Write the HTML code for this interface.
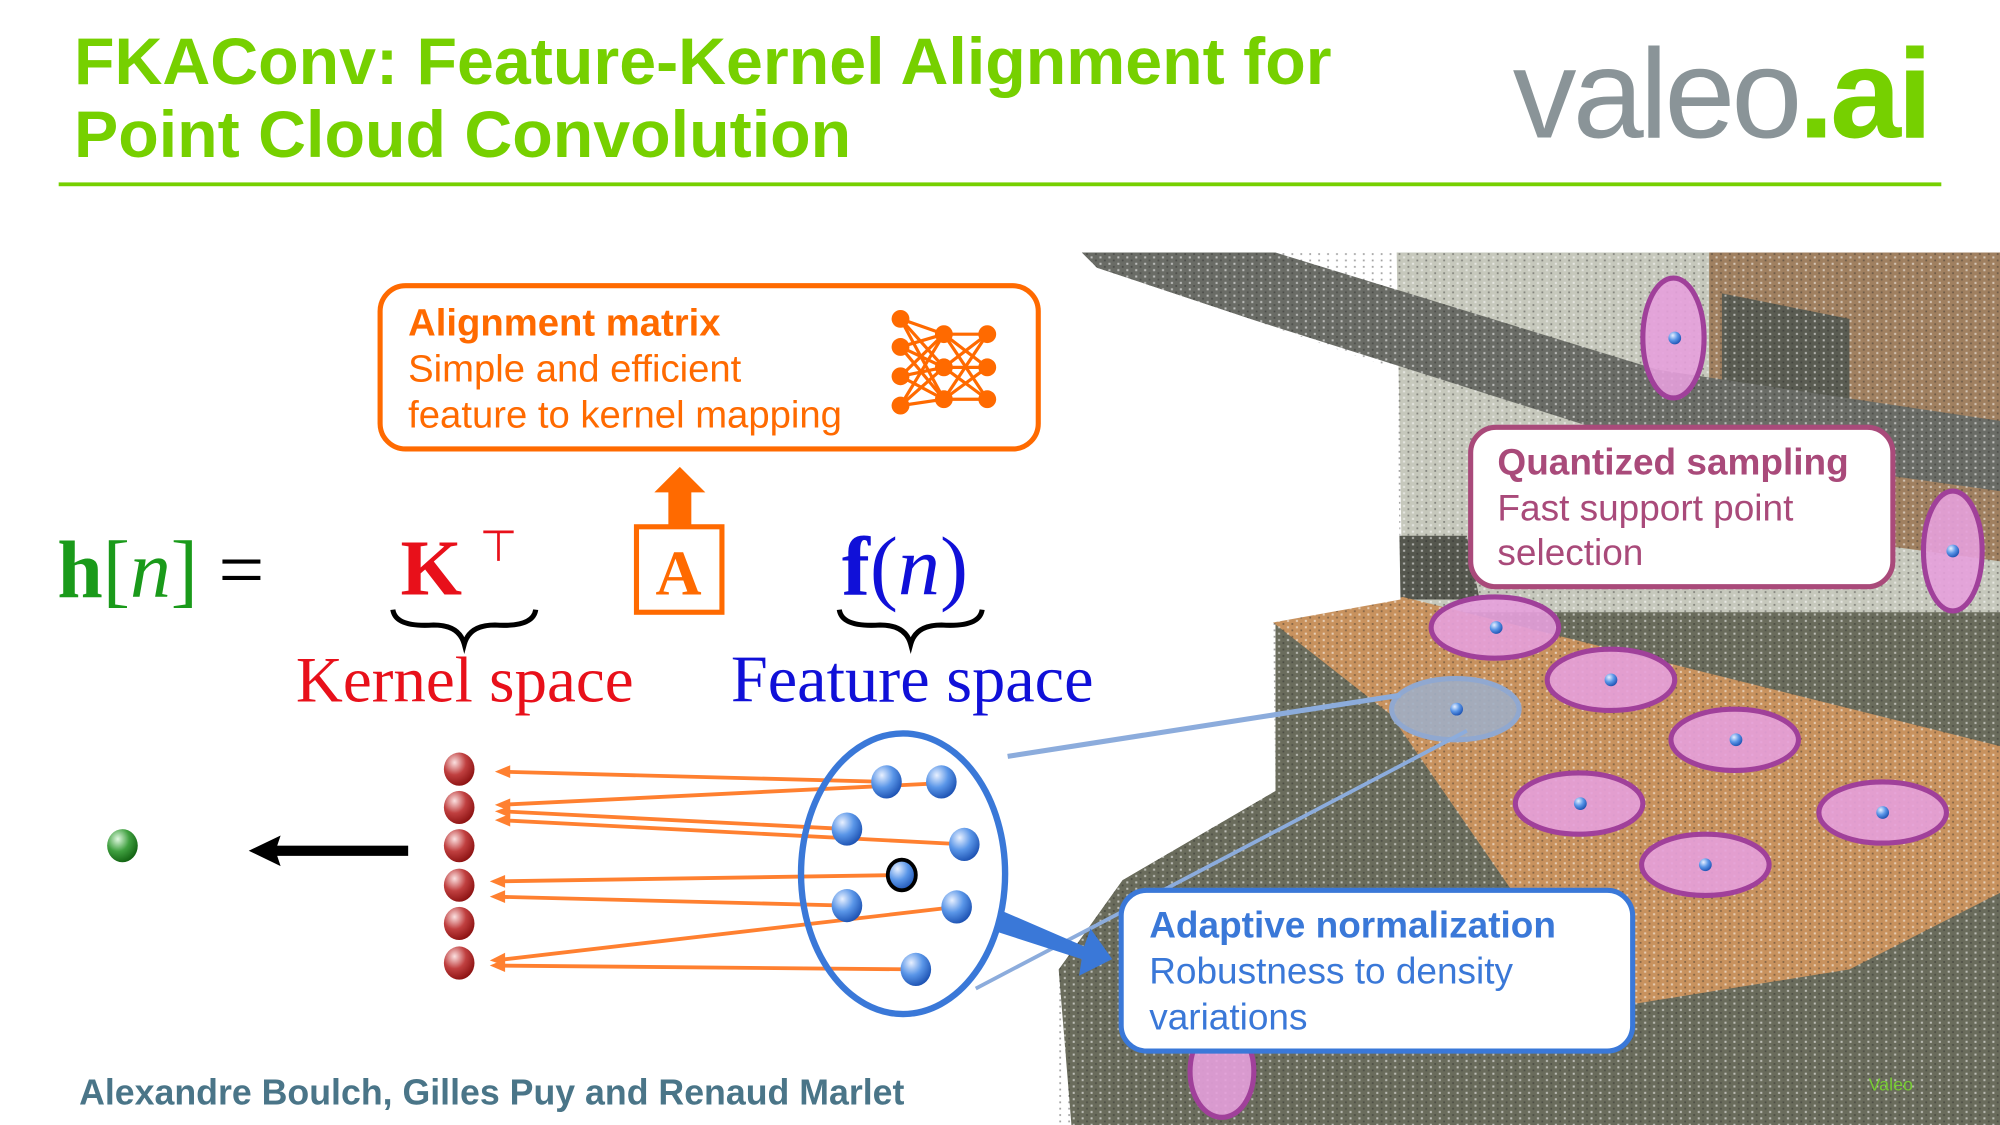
<!DOCTYPE html>
<html><head><meta charset="utf-8"><style>
html,body{margin:0;padding:0;background:#fff}
svg{display:block}
</style></head><body>
<svg width="2000" height="1125" viewBox="0 0 1568 882" xmlns="http://www.w3.org/2000/svg">
<defs>
<radialGradient id="gb" cx="0.35" cy="0.3" r="0.75"><stop offset="0" stop-color="#e8f0ff"/><stop offset="0.5" stop-color="#5a96e8"/><stop offset="1" stop-color="#1a4fb0"/></radialGradient>
<radialGradient id="gr" cx="0.35" cy="0.3" r="0.75"><stop offset="0" stop-color="#fbe0e0"/><stop offset="0.5" stop-color="#c04040"/><stop offset="1" stop-color="#8a1010"/></radialGradient>
<radialGradient id="gg" cx="0.35" cy="0.3" r="0.75"><stop offset="0" stop-color="#e0f8e0"/><stop offset="0.5" stop-color="#40a040"/><stop offset="1" stop-color="#106010"/></radialGradient>
<pattern id="dots" width="7" height="5" patternUnits="userSpaceOnUse"><rect x="1" y="1" width="1.6" height="1.6" fill="#fff" opacity="0.8"/><rect x="4.5" y="3.5" width="1.4" height="1.4" fill="#222" opacity="0.6"/></pattern>
</defs>
<!-- title -->
<text x="58" y="66" font-family="Liberation Sans, sans-serif" font-weight="bold" font-size="52" fill="#76d000">FKAConv: Feature-Kernel Alignment for</text>
<text x="58" y="123" font-family="Liberation Sans, sans-serif" font-weight="bold" font-size="52" fill="#76d000">Point Cloud Convolution</text>
<text x="1186" y="108" font-family="Liberation Sans, sans-serif" font-size="100" fill="#8a9498" letter-spacing="-3">valeo<tspan fill="#76d000" font-weight="bold">.ai</tspan></text>
<rect x="46" y="143" width="1476" height="3" fill="#76d000"/>

<!-- point cloud -->
<polygon points="1095,198 1568,198 1568,560 1100,500" fill="#c6c8bc"/>
<polygon points="1340,198 1568,198 1568,440 1420,420 1340,330" fill="#a08060"/>
<polygon points="1350,230 1450,250 1450,320 1350,300" fill="#5a5c52"/>
<polygon points="848,198 1000,198 1300,290 1568,330 1568,385 1280,345 980,250 860,210" fill="#6a6c66"/>
<polygon points="1000,480 1568,480 1568,882 840,882 830,760 880,690 1000,620" fill="#6a6c5c"/>
<polygon points="1080,420 1150,420 1160,470 1080,470" fill="#55574e"/>
<polygon points="998,488 1100,468 1568,585 1568,700 1450,760 1250,792 1090,560" fill="#c8925e"/>
<rect x="830" y="198" width="738" height="684" fill="url(#dots)" opacity="0.7"/>
<polygon points="830,198 848,198 860,210 980,250 1095,290 1098,470 998,488 1000,620 880,690 830,760" fill="#fff"/>
<text x="1465" y="855" font-family="Liberation Sans, sans-serif" font-size="14" fill="#7c3">Valeo</text>

<!-- pink ellipses -->
<g fill="#e6a0dc" fill-opacity="0.9" stroke="#a0409a" stroke-width="4">
<ellipse cx="1312" cy="265" rx="24" ry="47"/>
<ellipse cx="1531" cy="432" rx="23" ry="47"/>
<ellipse cx="1172" cy="492" rx="50" ry="24"/>
<ellipse cx="1263" cy="533" rx="50" ry="24"/>
<ellipse cx="1360" cy="580" rx="50" ry="24"/>
<ellipse cx="1238" cy="630" rx="50" ry="24"/>
<ellipse cx="1337" cy="678" rx="50" ry="24"/>
<ellipse cx="1476" cy="637" rx="50" ry="24"/>
<ellipse cx="958" cy="840" rx="25" ry="36"/>
</g>
<ellipse cx="1141" cy="556" rx="50" ry="24" fill="#a0aec4" fill-opacity="0.9" stroke="#90a8d0" stroke-width="4"/>
<g fill="url(#gb)">
<circle cx="1313" cy="265" r="5"/><circle cx="1531" cy="432" r="5"/><circle cx="1173" cy="492" r="5"/><circle cx="1263" cy="533" r="5"/><circle cx="1361" cy="580" r="5"/><circle cx="1239" cy="630" r="5"/><circle cx="1337" cy="678" r="5"/><circle cx="1476" cy="637" r="5"/><circle cx="1142" cy="556" r="5"/>
</g>
<line x1="790" y1="593" x2="1098" y2="545" stroke="#8cacdc" stroke-width="4"/>
<line x1="765" y1="775" x2="1150" y2="573" stroke="#8cacdc" stroke-width="3"/>

<!-- boxes -->
<rect x="1153" y="335" width="331" height="125" rx="20" fill="#fff" stroke="#a94a7a" stroke-width="4"/>
<text font-family="Liberation Sans, sans-serif" font-size="29" fill="#a94a7a"><tspan x="1174" y="372" font-weight="bold">Quantized sampling</tspan><tspan x="1174" y="408">Fast support point</tspan><tspan x="1174" y="443">selection</tspan></text>
<rect x="879" y="698" width="401" height="126" rx="20" fill="#fff" stroke="#3a78d8" stroke-width="4"/>
<text font-family="Liberation Sans, sans-serif" font-size="29" fill="#3a78d8"><tspan x="901" y="735" font-weight="bold">Adaptive normalization</tspan><tspan x="901" y="771">Robustness to density</tspan><tspan x="901" y="807">variations</tspan></text>

<rect x="298" y="224" width="516" height="128" rx="20" fill="#fff" stroke="#ff6a00" stroke-width="4"/>
<text font-family="Liberation Sans, sans-serif" font-size="30" fill="#ff6a00"><tspan x="320" y="263" font-weight="bold">Alignment matrix</tspan><tspan x="320" y="299">Simple and efficient</tspan><tspan x="320" y="335">feature to kernel mapping</tspan></text>
<g stroke="#ff6a00" stroke-width="2.5">
<line x1="706" y1="250" x2="740" y2="262"/><line x1="706" y1="250" x2="740" y2="288"/><line x1="706" y1="250" x2="740" y2="313"/>
<line x1="706" y1="272" x2="740" y2="262"/><line x1="706" y1="272" x2="740" y2="288"/><line x1="706" y1="272" x2="740" y2="313"/>
<line x1="706" y1="295" x2="740" y2="262"/><line x1="706" y1="295" x2="740" y2="288"/><line x1="706" y1="295" x2="740" y2="313"/>
<line x1="706" y1="318" x2="740" y2="262"/><line x1="706" y1="318" x2="740" y2="288"/><line x1="706" y1="318" x2="740" y2="313"/>
<line x1="774" y1="262" x2="740" y2="262"/><line x1="774" y1="262" x2="740" y2="288"/><line x1="774" y1="262" x2="740" y2="313"/>
<line x1="774" y1="288" x2="740" y2="262"/><line x1="774" y1="288" x2="740" y2="288"/><line x1="774" y1="288" x2="740" y2="313"/>
<line x1="774" y1="313" x2="740" y2="262"/><line x1="774" y1="313" x2="740" y2="288"/><line x1="774" y1="313" x2="740" y2="313"/>
</g>
<g fill="#ff6a00"><circle cx="706" cy="250" r="7"/><circle cx="706" cy="272" r="7"/><circle cx="706" cy="295" r="7"/><circle cx="706" cy="318" r="7"/><circle cx="740" cy="262" r="7"/><circle cx="740" cy="288" r="7"/><circle cx="740" cy="313" r="7"/><circle cx="774" cy="262" r="7"/><circle cx="774" cy="288" r="7"/><circle cx="774" cy="313" r="7"/></g>

<rect x="524" y="384" width="18" height="28" fill="#ff6a00"/>
<polygon points="513,386 533,366 553,386" fill="#ff6a00"/>
<rect x="499" y="413" width="67" height="67" fill="#fff" stroke="#ff6a00" stroke-width="4"/>
<text x="532" y="466" text-anchor="middle" font-family="Liberation Serif, serif" font-weight="bold" font-size="50" fill="#ff6a00">A</text>

<!-- equation -->
<text x="45" y="468" font-family="Liberation Serif, serif" font-size="64" fill="#000"><tspan fill="#1a9a1a" font-weight="bold">h</tspan><tspan fill="#1a9a1a">[<tspan font-style="italic">n</tspan>]</tspan> =</text>
<text x="314" y="466" font-family="Liberation Serif, serif" font-weight="bold" font-size="62" fill="#e8101a">K</text>
<text x="376" y="440" font-family="DejaVu Sans, sans-serif" font-size="34" fill="#e8101a">⊤</text>
<text x="660" y="466" font-family="Liberation Serif, serif" font-size="66" fill="#1010d8"><tspan font-weight="bold">f</tspan>(<tspan font-style="italic">n</tspan>)</text>
<path d="M308,478 Q310,492 340,490 Q360,490 364,505 Q368,490 388,490 Q418,492 420,478" fill="none" stroke="#000" stroke-width="4"/>
<path d="M658,478 Q660,492 690,490 Q710,490 714,505 Q718,490 738,490 Q768,492 770,478" fill="none" stroke="#000" stroke-width="4"/>
<text x="232" y="550" font-family="Liberation Serif, serif" font-size="51" fill="#e8101a">Kernel space</text>
<text x="573" y="550" font-family="Liberation Serif, serif" font-size="52" fill="#1010d8">Feature space</text>

<!-- orange arrows -->
<g stroke="#ff8030" stroke-width="3" fill="none">
<line x1="695" y1="613" x2="392" y2="605"/>
<line x1="738" y1="614" x2="392" y2="631"/>
<line x1="664" y1="650" x2="392" y2="636"/>
<line x1="756" y1="662" x2="392" y2="643"/>
<line x1="707" y1="686" x2="388" y2="691"/>
<line x1="664" y1="710" x2="388" y2="703"/>
<line x1="750" y1="711" x2="388" y2="753"/>
<line x1="718" y1="760" x2="388" y2="757"/>
</g>
<g fill="#ff8030">
<polygon points="388,605 400,600 400,610"/><polygon points="388,631 400,626 400,636"/><polygon points="388,636 400,632 400,641"/><polygon points="388,643 400,638 400,648"/>
<polygon points="384,691 396,686 396,696"/><polygon points="384,703 396,698 396,708"/><polygon points="384,753 396,747 396,757"/><polygon points="384,757 396,752 396,762"/>
</g>
<g fill="url(#gr)">
<ellipse cx="360" cy="603" rx="12" ry="13"/><ellipse cx="360" cy="633" rx="12" ry="13"/><ellipse cx="360" cy="663" rx="12" ry="13"/><ellipse cx="360" cy="694" rx="12" ry="13"/><ellipse cx="360" cy="724" rx="12" ry="13"/><ellipse cx="360" cy="755" rx="12" ry="13"/>
</g>
<ellipse cx="96" cy="663" rx="12" ry="13" fill="url(#gg)"/>
<rect x="215" y="663" width="105" height="8" fill="#000"/>
<polygon points="195,667 220,655 216,667 220,679" fill="#000"/>

<ellipse cx="708" cy="685" rx="80" ry="110" fill="none" stroke="#3a78d8" stroke-width="5"/>
<g fill="url(#gb)">
<ellipse cx="695" cy="613" rx="12" ry="13"/><ellipse cx="738" cy="613" rx="12" ry="13"/><ellipse cx="664" cy="650" rx="12" ry="13"/><ellipse cx="756" cy="662" rx="12" ry="13"/><ellipse cx="664" cy="710" rx="12" ry="13"/><ellipse cx="750" cy="711" rx="12" ry="13"/><ellipse cx="718" cy="760" rx="12" ry="13"/>
</g>
<ellipse cx="707" cy="686" rx="11" ry="12" fill="url(#gb)" stroke="#000" stroke-width="3"/>
<polygon points="783,713 850,742 855,728 872,752 846,765 848,752 780,730" fill="#3a78d8"/>

<text x="62" y="866" font-family="Liberation Sans, sans-serif" font-weight="bold" font-size="28" fill="#4a7588">Alexandre Boulch, Gilles Puy and Renaud Marlet</text>
</svg>
</body></html>
